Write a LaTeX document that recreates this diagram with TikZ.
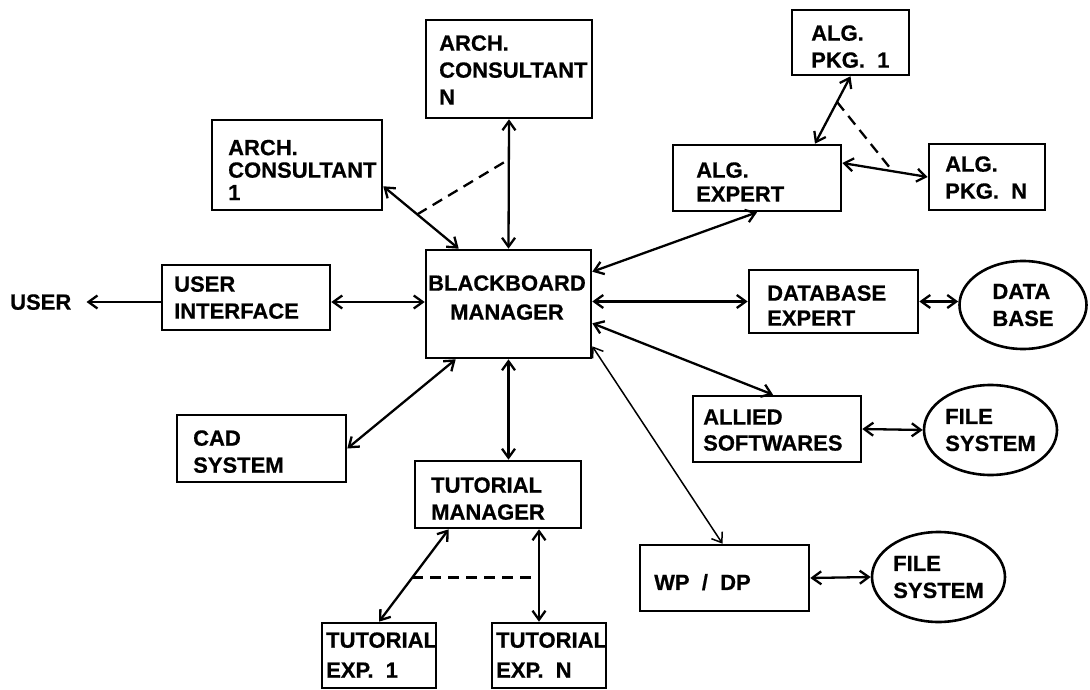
\documentclass[tikz,border=0pt]{standalone}
\usepackage{fontspec}
\setmainfont{Liberation Sans}[BoldFeatures={FakeBold=0.6}]
\usetikzlibrary{arrows.meta,calc,shapes.geometric}
\begin{document}
\begin{tikzpicture}[x=1pt,y=-1pt,
  tip/.tip={Straight Barb[length=9pt,width=13pt]},
  box/.style={draw,line width=2.6pt,rectangle,inner sep=0pt},
  oval/.style={draw,line width=2.6pt,ellipse,inner sep=0pt,align=left,
    font=\bfseries\fontsize{22}{27}\selectfont},
  lbl/.style={inner sep=0pt,anchor=west,align=left,text depth=0pt,
    font=\bfseries\fontsize{22}{27}\selectfont},
  link/.style={line width=2.3pt,tip-tip},
  thinlink/.style={line width=1.5pt,tip-tip},
  tolink/.style={line width=2.3pt,-tip},
  dashlink/.style={line width=2.3pt,dash pattern=on 11pt off 7pt}]
\useasboundingbox (0,0) rectangle (1090,690);

% boxes: centre, width, height
\node[box,minimum width=166,minimum height=98] (an)  at (509,69)    {};
\node[box,minimum width=170,minimum height=90] (a1)  at (297,165)   {};
\node[box,minimum width=168,minimum height=65] (ui)  at (246,297.5) {};
\node[box,minimum width=165,minimum height=108] (bb) at (508.5,304) {};
\node[box,minimum width=117,minimum height=65] (ap1) at (850.5,42.5) {};
\node[box,minimum width=168,minimum height=66] (ae)  at (757,178)   {};
\node[box,minimum width=116,minimum height=66] (apn) at (987,177)   {};
\node[box,minimum width=169,minimum height=63] (dbe) at (833.5,301.5) {};
\node[box,minimum width=168,minimum height=66] (als) at (777,429)   {};
\node[box,minimum width=169,minimum height=66] (wp)  at (724.5,578) {};
\node[box,minimum width=169,minimum height=67] (cad) at (261.5,448.5) {};
\node[box,minimum width=166,minimum height=67] (tm)  at (498,494.5) {};
\node[box,minimum width=114,minimum height=65] (te1) at (379,655.5) {};
\node[box,minimum width=114,minimum height=65] (ten) at (549,655.5) {};

% stores
\node[oval,minimum width=127,minimum height=88] (db)  at (1023,305) {DATA\\BASE};
\node[oval,minimum width=133,minimum height=90] (fs1) at (990.5,430) {FILE\\SYSTEM};
\node[oval,minimum width=133,minimum height=90] (fs2) at (938.5,577) {FILE\\SYSTEM};

% box captions
\node[lbl] (anT)  at (439,70)  {ARCH.\\CONSULTANT\\N};
\node[lbl,font=\bfseries\fontsize{22}{22.5}\selectfont] (a1T) at (228,170) {ARCH.\\CONSULTANT\\1};
\node[lbl] (uiT)  at (174,297.5) {USER\\INTERFACE};
\node[lbl,anchor=center,align=center,font=\bfseries\fontsize{22}{29}\selectfont] (bbT) at (507,297.5) {BLACKBOARD\\MANAGER};
\node[lbl] (ap1T) at (811,46.5)  {ALG.\\PKG. \ 1};
\node[lbl,font=\bfseries\fontsize{22}{24}\selectfont] (aeT) at (696,182) {ALG.\\EXPERT};
\node[lbl] (apnT) at (945,177.5) {ALG.\\PKG. \ N};
\node[lbl,font=\bfseries\fontsize{22}{25}\selectfont] (dbeT) at (767,305.5) {DATABASE\\EXPERT};
\node[lbl,font=\bfseries\fontsize{22}{26}\selectfont] (alsT) at (703,430) {ALLIED\\SOFTWARES};
\node[lbl] (wpT)  at (654,582) {WP \ / \ DP};
\node[lbl] (cadT) at (193,451.5) {CAD\\SYSTEM};
\node[lbl] (tmT)  at (431,498.5) {TUTORIAL\\MANAGER};
\node[lbl,font=\bfseries\fontsize{22}{30}\selectfont] (te1T) at (326,655) {TUTORIAL\\EXP. \ 1};
\node[lbl,font=\bfseries\fontsize{22}{30}\selectfont] (tenT) at (496,655) {TUTORIAL\\EXP. \ N};
\node[lbl] (user) at (10,302) {USER};

% attachment points on the boxes
\coordinate (a1p) at ($(a1.south east)+(0,-25)$);
\coordinate (bbA) at ($(bb.north west)+(34,0)$);
\coordinate (bbE) at ($(bb.north east)+(0,23)$);
\coordinate (aeN) at ($(ae.north)+(58,0)$);
\coordinate (aeE) at ($(ae.east)+(0,-15)$);
\coordinate (bbS) at ($(bb.south east)+(0,-36)$);
\coordinate (bbW) at ($(bb.south east)+(0,-13)$);
\coordinate (bbC) at ($(bb.south west)+(31,0)$);
\coordinate (tmA) at ($(tm.south west)+(35,0)$);
\coordinate (tenN) at ($(ten.north)+(-10,0)$);
\coordinate (userE) at ($(user.east)+(15,0)$);

% user side
\draw[tolink] (ui.west |- user) -- (userE);
\draw[link] (ui.east |- user) -- (bb.west |- user);

% architecture consultants
\draw[link] (a1p) -- (bbA);
\draw[link] (an.south) -- (bb.north);
\draw[dashlink] ($(a1p)!0.45!(bbA)$) -- ($(an.south)!0.31!(bb.north)$);

% algorithm expert and packages
\draw[link] (bbE) -- (ae.south);
\draw[link] (ap1.south) -- (aeN);
\draw[link] (aeE) -- (apn.west);
\draw[dashlink] ($(ap1.south)!0.38!(aeN)$) -- ($(aeE)!0.59!(apn.west)$);

% database
\draw[link] (bb.east |- dbe.west) -- (dbe.west);
\draw[link] (dbe.east) -- (dbe.east -| db.west);

% allied software and word processing
\draw[link] (bbS) -- ($(als.north)+(-4,0)$);
\draw[link] (als.east) -- (fs1.west);
\draw[thinlink] (bbW) -- ($(wp.north)+(-2,0)$);
\draw[link] (wp.east) -- (fs2.west);

% CAD
\draw[link] (cad.east) -- (bbC);

% tutorial part
\draw[link] (bb.south) -- (bb.south |- tm.north);
\draw[link] (tmA) -- (te1.north);
\draw[link] (tm.south -| tenN) -- (tenN);
\draw[dashlink] ($(tmA)!0.52!(te1.north)$) -- ($(tm.south -| tenN)!0.52!(tenN)$);
\end{tikzpicture}
\end{document}
